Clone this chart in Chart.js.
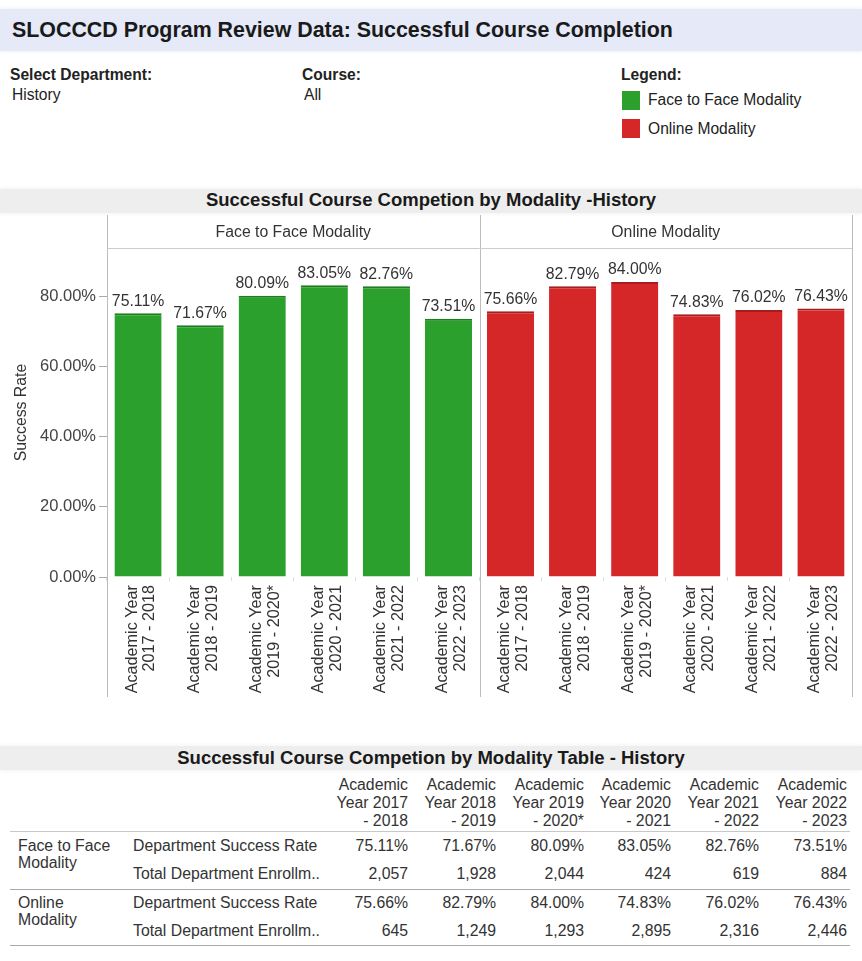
<!DOCTYPE html>
<html><head><meta charset="utf-8">
<script src="https://cdn.jsdelivr.net/npm/chart.js@4.4.1/dist/chart.umd.min.js"></script>
<style>
html,body{margin:0;padding:0;background:#fff;}
body{width:862px;height:961px;position:relative;overflow:hidden;font-family:"Liberation Sans",Arial,sans-serif;color:#222;}
.abs{position:absolute;white-space:nowrap;line-height:18px;font-size:15.6px;}
.b{font-weight:bold;}
.band{position:absolute;left:0;width:862px;}
.sw{position:absolute;width:18px;height:19px;}
.hl{position:absolute;height:0;border-top:1px solid #bbb;}
.cellr{position:absolute;text-align:right;white-space:nowrap;font-size:15.8px;line-height:18px;color:#333;}
.celll{position:absolute;text-align:left;white-space:nowrap;font-size:15.8px;line-height:17px;color:#333;}
</style>
</head><body>
<div class="band" style="top:9px;height:42px;background:#e5e9f8;box-shadow:0 0 4px #e5e9f8;"></div>
<div class="abs b" style="left:12px;top:18px;font-size:21.4px;line-height:24px;color:#1a1a1a;">SLOCCCD Program Review Data: Successful Course Completion</div>

<div class="abs b" style="left:10px;top:66px;">Select Department:</div>
<div class="abs" style="left:12px;top:86px;">History</div>
<div class="abs b" style="left:302px;top:66px;">Course:</div>
<div class="abs" style="left:304px;top:86px;">All</div>
<div class="abs b" style="left:621px;top:66px;">Legend:</div>
<div class="sw" id="sw0" style="left:622px;top:91px;"></div>
<div class="abs" id="lg0" style="left:648px;top:91px;"></div>
<div class="sw" id="sw1" style="left:622px;top:119px;"></div>
<div class="abs" id="lg1" style="left:648px;top:120px;"></div>

<div class="band" style="top:189px;height:24px;background:#eeeeee;box-shadow:0 0 5px #eeeeee;"></div>
<div class="abs b" id="ctitle" style="left:0;width:862px;text-align:center;top:189px;font-size:18.5px;line-height:22px;color:#1a1a1a;"></div>

<div style="position:absolute;left:0;top:214px;width:862px;height:490px;">
<canvas id="c" width="862" height="490"></canvas>
</div>

<div class="band" style="top:746px;height:24px;background:#eeeeee;box-shadow:0 0 5px #eeeeee;"></div>
<div class="abs b" id="ttitle" style="left:0;width:862px;text-align:center;top:747px;font-size:18.5px;line-height:22px;color:#1a1a1a;"></div>
<div id="tbl"></div>

<script>
// ---- data ----
const department = "History";
const years = ["2017 - 2018","2018 - 2019","2019 - 2020*","2020 - 2021","2021 - 2022","2022 - 2023"];
const modalities = ["Face to Face Modality","Online Modality"];
const faceToFaceRate = [75.11,71.67,80.09,83.05,82.76,73.51];
const onlineRate = [75.66,82.79,84.00,74.83,76.02,76.43];
const faceToFaceEnroll = [2057,1928,2044,424,619,884];
const onlineEnroll = [645,1249,1293,2895,2316,2446];
const yTicks = [0,20,40,60,80];
const measures = ["Department Success Rate","Total Department Enrollm.."];

const GREEN = "#2ca02c", RED = "#d62728";
const GREEN_D = "#1e7d1e", RED_D = "#a51d1f";

document.getElementById('sw0').style.background = GREEN;
document.getElementById('sw1').style.background = RED;
document.getElementById('lg0').textContent = modalities[0];
document.getElementById('lg1').textContent = modalities[1];
document.getElementById('ctitle').textContent = "Successful Course Competion by Modality -" + department;
document.getElementById('ttitle').textContent = "Successful Course Competion by Modality Table - " + department;

// ---- chart ----
const labels = years.concat(years).map(y => ["Academic Year", y]);
const values = faceToFaceRate.concat(onlineRate);
const colors = values.map((v,i) => i < years.length ? GREEN : RED);
const borders = values.map((v,i) => i < years.length ? GREEN_D : RED_D);

const FONT = '"Liberation Sans", Arial, sans-serif';

const panelPlugin = {
  id: 'panels',
  afterDraw(chart) {
    const {ctx, chartArea: a} = chart;
    const xs = chart.scales.x;
    const mid = (xs.getPixelForValue(years.length - 1) + xs.getPixelForValue(years.length)) / 2;
    ctx.save();
    ctx.strokeStyle = '#bdbdbd';
    ctx.lineWidth = 1;
    [a.left, mid, a.right].forEach(x => {
      const px = Math.round(x) + 0.5;
      ctx.beginPath(); ctx.moveTo(px, 1); ctx.lineTo(px, 483); ctx.stroke();
    });
    ctx.strokeStyle = '#cccccc';
    ctx.beginPath();
    ctx.moveTo(a.left, Math.round(a.top) + 0.5);
    ctx.lineTo(a.right, Math.round(a.top) + 0.5);
    ctx.stroke();
    ctx.fillStyle = '#333';
    ctx.font = '15.8px ' + FONT;
    ctx.textAlign = 'center';
    ctx.textBaseline = 'middle';
    ctx.fillText(modalities[0], (a.left + mid) / 2, a.top - 15);
    ctx.fillText(modalities[1], (mid + a.right) / 2, a.top - 15);
    const meta = chart.getDatasetMeta(0);
    meta.data.forEach((bar, i) => {
      ctx.fillText(values[i].toFixed(2) + '%', bar.x, bar.y - 12);
    });
    ctx.restore();
  }
};

new Chart(document.getElementById('c'), {
  type: 'bar',
  data: {
    labels: labels,
    datasets: [{
      data: values,
      backgroundColor: colors,
      borderColor: borders,
      borderWidth: {top: 2, left: 0, right: 0, bottom: 0},
      borderSkipped: 'bottom',
      categoryPercentage: 1,
      barPercentage: 0.76
    }]
  },
  options: {
    responsive: false,
    animation: false,
    devicePixelRatio: 1,
    layout: {padding: {top: 34, right: 10, bottom: 0, left: 0}},
    plugins: {legend: {display: false}, tooltip: {enabled: false}},
    scales: {
      x: {
        afterFit(s) { s.height = 127; },
        ticks: {autoSkip: false, maxRotation: 90, minRotation: 90, padding: 4, labelOffset: -6,
                font: {size: 16.2, family: FONT, lineHeight: 1.11}, color: '#333'},
        grid: {offset: true, drawOnChartArea: false, tickLength: 4, color: '#dddddd'},
        border: {display: false}
      },
      y: {
        min: 0, max: 93.67,
        afterFit(s) { s.width = 107; },
        afterBuildTicks(s) { s.ticks = yTicks.map(v => ({value: v})); },
        ticks: {padding: 3, font: {size: 16.5, family: FONT}, color: '#444',
                callback: v => Number(v).toFixed(2) + '%'},
        grid: {drawOnChartArea: false, tickLength: 8, color: '#aaaaaa'},
        border: {display: false},
        title: {display: true, text: 'Success Rate', padding: {top: 12, bottom: 0},
                font: {size: 15.8, family: FONT}, color: '#333'}
      }
    }
  },
  plugins: [panelPlugin]
});

// ---- table ----
const tbl = document.getElementById('tbl');
const colRight = i => 408 + Math.round(i * 87.8);
function add(cls, text, left, top, width) {
  const d = document.createElement('div');
  d.className = cls;
  d.textContent = text;
  d.style.top = top + 'px';
  if (cls === 'cellr') { d.style.left = (left - width) + 'px'; d.style.width = width + 'px'; }
  else d.style.left = left + 'px';
  tbl.appendChild(d);
  return d;
}
function hline(top, color) {
  const d = document.createElement('div');
  d.className = 'hl';
  d.style.left = '10px'; d.style.width = '840px';
  d.style.top = top + 'px'; d.style.borderTopColor = color;
  tbl.appendChild(d);
}
years.forEach((y, i) => {
  const parts = y.split(' - ');
  const r = colRight(i);
  add('cellr', 'Academic', r, 776, 90);
  add('cellr', 'Year ' + parts[0], r, 794, 90);
  add('cellr', '- ' + parts[1], r, 812, 90);
});
hline(831, '#c8c8c8');
const groups = [
  {name: ['Face to Face', 'Modality'], rate: faceToFaceRate, enroll: faceToFaceEnroll, top: 837},
  {name: ['Online', 'Modality'], rate: onlineRate, enroll: onlineEnroll, top: 894}
];
groups.forEach((g, gi) => {
  add('celll', g.name[0], 18, g.top);
  add('celll', g.name[1], 18, g.top + 17);
  add('celll', measures[0], 133, g.top);
  add('celll', measures[1], 133, g.top + 28);
  g.rate.forEach((v, i) => add('cellr', v.toFixed(2) + '%', colRight(i), g.top, 90));
  g.enroll.forEach((v, i) => add('cellr', v.toLocaleString('en-US'), colRight(i), g.top + 28, 90));
});
hline(889, '#aaaaaa');
hline(945, '#aaaaaa');
</script>
</body></html>
